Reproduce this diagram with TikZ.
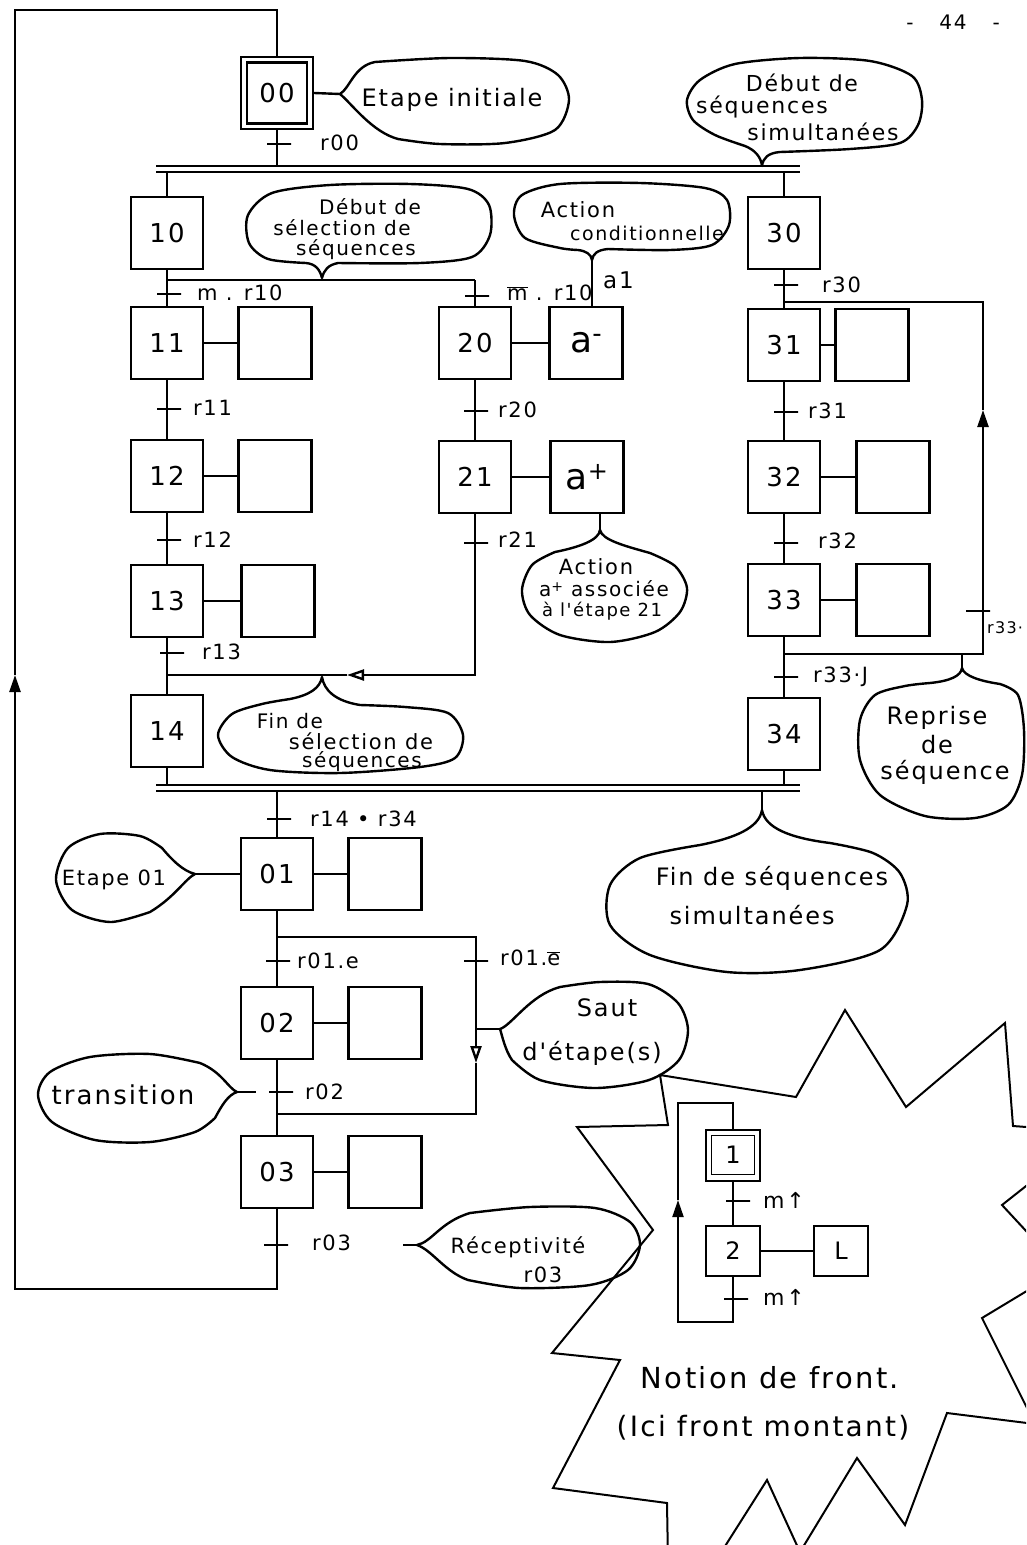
\documentclass[tikz,border=0pt]{standalone}
\usepackage{fontspec}
\setmainfont{DejaVu Sans}
\newfontfamily\hand[LetterSpace=8]{DejaVu Sans}
\usetikzlibrary{arrows.meta}
\newcommand{\ovl}[1]{\ensuremath{\overline{\mbox{#1}}}}
\begin{document}
\begin{tikzpicture}[x=1pt,y=-1pt,
  ln/.style={line width=2.4pt},
  thin/.style={line width=2pt},
  stepbox/.style={draw,line width=2.4pt,minimum width=72pt,minimum height=72pt,inner sep=0pt,font=\fontsize{26}{30}\selectfont\hand},
  actbox/.style={draw,line width=2.4pt,minimum width=73pt,minimum height=72pt,inner sep=0pt,font=\fontsize{36}{40}\selectfont},
  innerbox/.style={draw,line width=2.2pt,minimum width=60pt,minimum height=61pt,inner sep=0pt,font=\fontsize{26}{30}\selectfont\hand},
  smbox/.style={draw,line width=2pt,minimum width=54pt,minimum height=50pt,inner sep=0pt,font=\fontsize{24}{28}\selectfont},
  trs/.style={draw,line width=2.4pt,minimum width=24pt,minimum height=0pt,inner sep=0pt},
  lbl/.style={font=\fontsize{21}{24}\selectfont\hand,inner sep=0pt,anchor=west},
  btxt/.style={font=\fontsize{#1}{#1}\selectfont\hand,inner sep=0pt},
  btxt/.default=22,
  bub/.style={line width=2.4pt,line join=round},
  starline/.style={line width=2pt,line join=miter},
  tipF/.style={-{Triangle[length=17pt,width=11pt]}},
  tipO/.style={-{Triangle[open,length=17pt,width=11pt]}},
]
\path[use as bounding box] (0,0) rectangle (1026,1545);
\fill[white] (0,0) rectangle (1026,1545);
\clip (0,0) rectangle (1026,1545);

% page number
\node[btxt=20] (pg) at (953,22) {-\hspace{26pt}44\hspace{26pt}-};

% ---------- star (notion de front) ----------
\draw[starline] (660,1075) -- (796,1097) -- (845,1010) -- (906,1107) -- (1005,1023) -- (1013,1126) -- (1040,1128)
  -- (1040,1175) -- (1002,1205) -- (1040,1246) -- (1040,1283) -- (982,1318) -- (1035,1424) -- (947,1413)
  -- (905,1525) -- (857,1458) -- (800,1552) -- (767,1480) -- (715,1562) -- (668,1562) -- (667,1503)
  -- (553,1488) -- (620,1360) -- (552,1353) -- (653,1230) -- (577,1127) -- (668,1125) -- cycle;

% ---------- steps ----------
\node[stepbox] (s00) at (277,93) {};
\node[innerbox] (s00i) at (277,93) {00};
\node[stepbox] (s10) at (167,233) {10};
\node[stepbox] (s11) at (167,343) {11};
\node[stepbox] (s12) at (167,476) {12};
\node[stepbox] (s13) at (167,601) {13};
\node[stepbox] (s14) at (167,731) {14};
\node[stepbox] (s20) at (475,343) {20};
\node[stepbox] (s21) at (475,477) {21};
\node[stepbox] (s30) at (784,233) {30};
\node[stepbox] (s31) at (784,345) {31};
\node[stepbox] (s32) at (784,477) {32};
\node[stepbox] (s33) at (784,600) {33};
\node[stepbox] (s34) at (784,734) {34};
\node[stepbox] (s01) at (277,874) {01};
\node[stepbox] (s02) at (277,1023) {02};
\node[stepbox] (s03) at (277,1172) {03};

% ---------- actions ----------
\node[actbox] (a11) at (275,343) {};
\node[actbox] (a12) at (275,476) {};
\node[actbox] (a13) at (278,601) {};
\node[actbox] (a20) at (586,343) {a\raisebox{10pt}{\fontsize{26}{26}\selectfont -}};
\node[actbox] (a21) at (587,477) {a\raisebox{10pt}{\fontsize{24}{24}\selectfont +}};
\node[actbox] (a31) at (872,345) {};
\node[actbox] (a32) at (893,477) {};
\node[actbox] (a33) at (893,600) {};
\node[actbox] (a01) at (385,874) {};
\node[actbox] (a02) at (385,1023) {};
\node[actbox] (a03) at (385,1172) {};
\foreach \s/\a in {s11/a11,s12/a12,s13/a13,s20/a20,s21/a21,s31/a31,s32/a32,s33/a33,s01/a01,s02/a02,s03/a03}
  \draw[ln] (\s) -- (\a);

% ---------- junction coordinates ----------
\coordinate (b1aL) at (156,166); \coordinate (b1aR) at (800,166);
\coordinate (b1bL) at (156,172); \coordinate (b1bR) at (800,172);
\coordinate (b2aL) at (156,785); \coordinate (b2aR) at (800,785);
\coordinate (b2bL) at (156,791); \coordinate (b2bR) at (800,791);
\coordinate (selL) at (167,280); \coordinate (selR) at (475,280);
\coordinate (endL) at (167,675); \coordinate (endR) at (475,675); \coordinate (endA) at (347,675);
\coordinate (repT) at (784,302); \coordinate (repTR) at (983,302); \coordinate (repA) at (983,410);
\coordinate (repB) at (784,654); \coordinate (repBR) at (983,654);
\coordinate (jmp) at (277,937); \coordinate (jmpR) at (476,937); \coordinate (jmpA) at (476,1063);
\coordinate (jmpBR) at (476,1114); \coordinate (jmpB) at (277,1114);
\coordinate (lpTR) at (277,10); \coordinate (lpTL) at (15,10); \coordinate (lpA) at (15,675);
\coordinate (lpBL) at (15,1289); \coordinate (lpBR) at (277,1289);

% bars
\draw[ln] (b1aL) -- (b1aR);
\draw[ln] (b1bL) -- (b1bR);
\draw[ln] (b2aL) -- (b2aR);
\draw[ln] (b2bL) -- (b2bR);

% ---------- connectors ----------
\draw[ln] (s00.south) -- (s00.south |- b1aL);
\draw[ln] (s10.north |- b1bL) -- (s10.north);
\draw[ln] (s30.north |- b1bL) -- (s30.north);
\draw[ln] (s10.south) -- (selL);
\draw[ln] (selL) -- (selR);
\draw[ln] (selL) -- (s11.north);
\draw[ln] (selR) -- (s20.north);
\draw[ln] (s11.south) -- (s12.north);
\draw[ln] (s12.south) -- (s13.north);
\draw[ln] (s13.south) -- (endL) -- (s14.north);
\draw[ln] (s14.south) -- (s14.south |- b2aL);
\draw[ln] (s20.south) -- (s21.north);
\draw[ln,tipO] (s21.south) -- (endR) -- (endA);
\draw[ln] (endA) -- (endL);
\draw[ln] (s30.south) -- (repT) -- (s31.north);
\draw[ln] (s31.south) -- (s32.north);
\draw[ln] (s32.south) -- (s33.north);
\draw[ln] (s33.south) -- (repB) -- (s34.north);
\draw[ln,tipF] (repB) -- (repBR) -- (repA);
\draw[ln] (repA) -- (repTR) -- (repT);
\draw[ln] (s34.south) -- (s34.south |- b2aL);
\draw[ln] (s01.north |- b2bL) -- (s01.north);
\draw[ln] (s01.south) -- (jmp) -- (s02.north);
\draw[ln,tipO] (jmp) -- (jmpR) -- (jmpA);
\draw[ln] (jmpA) -- (jmpBR) -- (jmpB);
\draw[ln] (s02.south) -- (jmpB) -- (s03.north);
\draw[ln,tipF] (s03.south) -- (lpBR) -- (lpBL) -- (lpA);
\draw[ln] (lpA) -- (lpTL) -- (lpTR) -- (s00.north);

% ---------- transitions ----------
\node[trs] (t00) at (279,144) {};
\node[trs] (t10a) at (169,294) {};
\node[trs] (t10b) at (477,296) {};
\node[trs] (t11) at (169,409) {};
\node[trs] (t12) at (169,540) {};
\node[trs] (t13) at (172,653) {};
\node[trs] (t20) at (476,411) {};
\node[trs] (t21) at (476,543) {};
\node[trs] (t30) at (786,285) {};
\node[trs] (t31) at (786,412) {};
\node[trs] (t32) at (786,543) {};
\node[trs] (t33J) at (786,677) {};
\node[trs] (t33r) at (978,611) {};
\node[trs] (t1434) at (279,819) {};
\node[trs] (t01e) at (278,961) {};
\node[trs] (t01f) at (476,961) {};
\node[trs] (t02) at (281,1092) {};
\node[trs] (t03) at (276,1245) {};

\node[lbl] (l00) at (320,143) {r00};
\node[lbl] (l10a) at (197,293) {m . r10};
\node[lbl] (l10b) at (507,293) {\ovl{m} . r10};
\node[lbl,font=\fontsize{23}{24}\selectfont\hand] (la1) at (603,280) {a1};
\node[lbl] (l11) at (193,408) {r11};
\node[lbl] (l12) at (193,540) {r12};
\node[lbl] (l13) at (202,652) {r13};
\node[lbl] (l20) at (498,410) {r20};
\node[lbl] (l21) at (498,540) {r21};
\node[lbl] (l30) at (822,285) {r30};
\node[lbl] (l31) at (808,411) {r31};
\node[lbl] (l32) at (818,541) {r32};
\node[lbl] (l33J) at (813,677) {r33·J};
\node[lbl,font=\fontsize{16}{18}\selectfont\hand] (l33r) at (987,628) {r33·};
\node[lbl] (l1434) at (310,819) {r14 • r34};
\node[lbl] (l01e) at (297,961) {r01.e};
\node[lbl] (l01f) at (500,958) {r01.\ovl{e}};
\node[lbl] (l02) at (305,1092) {r02};
\node[lbl] (l03) at (312,1243) {r03};

% ---------- bubbles ----------
% Etape initiale
\coordinate (eiT) at (340,94);
\draw[ln] (s00.east) -- (eiT);
\draw[bub] (eiT) .. controls (350,88) and (354,66) .. (375,62)
  -- plot[smooth] coordinates {(375,62) (450,58) (525,61) (558,75) (569,100) (555,130) (505,143) (440,144) (398,139)}
  .. controls (372,132) and (352,104) .. (eiT) -- cycle;
\node[btxt=24] (tEI) at (452,100) {Etape initiale};

% Debut de sequences simultanees
\coordinate (dsT) at (762,166);
\draw[bub] (dsT) .. controls (763,158) and (768,153) .. (780,152)
  -- plot[smooth] coordinates {(780,152) (850,149) (900,143) (918,125) (922,100) (912,76) (870,61) (800,58) (735,64) (700,80) (687,100) (693,120) (715,135) (745,146)}
  .. controls (755,150) and (761,157) .. (dsT) -- cycle;
\node[btxt] (tDS1) at (802,83) {Début de};
\node[btxt] (tDS2) at (762,107) {séquences};
\node[btxt] (tDS3) at (823,132) {simultanées};

% Debut de selection de sequences
\coordinate (dselT) at (322,278);
\draw[bub] (dselT) .. controls (324,270) and (328,265) .. (338,263)
  -- plot[smooth] coordinates {(338,263) (420,263) (472,257) (490,235) (489,205) (468,189) (410,184) (330,185) (272,193) (248,215) (249,243) (268,259) (306,263)}
  .. controls (316,264) and (320,270) .. (dselT) -- cycle;
\node[btxt=20] (tDL1) at (370,207) {Début de};
\node[btxt=20] (tDL2) at (342,228) {sélection de};
\node[btxt=20] (tDL3) at (356,250) {séquences};

% Action conditionnelle
\coordinate (acT) at (592,260);
\draw[bub] (acT) .. controls (593,254) and (597,250) .. (608,249)
  -- plot[smooth] coordinates {(608,249) (670,250) (712,245) (729,225) (727,200) (705,188) (640,183) (560,184) (522,195) (514,215) (525,238) (560,248) (578,250)}
  .. controls (586,251) and (591,254) .. (acT) -- cycle;
\draw[ln] (acT) -- (acT |- a20.north);
\node[btxt=21] (tAC1) at (578,210) {Action};
\node[btxt=19] (tAC2) at (647,233) {conditionnelle};

% Action a+ associee
\coordinate (apT) at (600,530);
\draw[ln] (a21.south -| apT) -- (apT);
\draw[bub] (apT) .. controls (599,540) and (580,547) .. (555,552)
  -- plot[smooth] coordinates {(555,552) (532,565) (522,590) (530,615) (560,635) (610,642) (655,632) (680,612) (687,588) (675,566) (650,553)}
  .. controls (625,546) and (602,540) .. (apT) -- cycle;
\node[btxt=21] (tAP1) at (596,567) {Action};
\node[btxt=20] (tAP2) at (604,589) {a\raisebox{5pt}{\fontsize{14}{14}\selectfont +} associée};
\node[btxt=18] (tAP3) at (602,611) {à l'étape 21};

% Fin de selection de sequences
\coordinate (fsT) at (322,677);
\draw[bub] (fsT) .. controls (324,690) and (335,701) .. (360,705)
  -- plot[smooth] coordinates {(360,705) (405,707) (448,713) (463,735) (455,758) (420,767) (340,773) (270,770) (232,757) (218,735) (232,714) (262,704) (290,699)}
  .. controls (310,695) and (320,688) .. (fsT) -- cycle;
\node[btxt=20] (tFS1) at (290,721) {Fin de};
\node[btxt=21] (tFS2) at (361,741) {sélection de};
\node[btxt=20] (tFS3) at (362,762) {séquences};

% Reprise de sequence
\coordinate (rpT) at (962,668);
\draw[ln] (962,654) -- (rpT);
\draw[bub] (rpT) .. controls (964,676) and (980,681) .. (1000,684)
  -- plot[smooth] coordinates {(1000,684) (1018,695) (1024,730) (1022,775) (1008,805) (975,818) (925,816) (880,795) (860,760) (860,720) (875,695) (905,686) (930,683)}
  .. controls (950,681) and (961,676) .. (rpT) -- cycle;
\node[btxt=24] (tRP1) at (937,718) {Reprise};
\node[btxt=24] (tRP2) at (937,745) {de};
\node[btxt=24] (tRP3) at (945,772) {séquence};

% Fin de sequences simultanees
\coordinate (fmT) at (762,810);
\draw[ln] (b2bR -| fmT) -- (fmT);
\draw[bub] (fmT) .. controls (765,828) and (790,838) .. (830,843)
  -- plot[smooth] coordinates {(830,843) (873,853) (900,873) (907,905) (880,950) (800,970) (727,972) (650,955) (610,925) (610,885) (640,858) (700,845)}
  .. controls (735,838) and (759,828) .. (fmT) -- cycle;
\node[btxt=24] (tFM1) at (772,878) {Fin de séquences};
\node[btxt=24] (tFM2) at (752,915) {simultanées};

% Etape 01
\coordinate (e1T) at (195,874);
\draw[ln] (e1T) -- (s01.west);
\draw[bub] (e1T) .. controls (185,879) and (175,897) .. (150,912)
  -- plot[smooth] coordinates {(150,912) (110,922) (72,910) (56,880) (68,848) (100,834) (140,836) (162,848)}
  .. controls (172,860) and (183,871) .. (e1T) -- cycle;
\node[btxt=21] (tE1) at (114,880) {Etape 01};

% transition
\coordinate (trT) at (237,1092);
\draw[ln] (trT) -- (256,1092);
\draw[bub] (trT) .. controls (228,1088) and (222,1072) .. (200,1063)
  -- plot[smooth] coordinates {(200,1063) (150,1054) (90,1057) (50,1072) (38,1095) (52,1122) (95,1140) (150,1142) (195,1132) (215,1118)}
  .. controls (222,1105) and (228,1095) .. (trT) -- cycle;
\node[btxt=26] (tTR) at (123,1095) {transition};

% Saut d'etape(s)
\coordinate (saT) at (500,1029);
\draw[ln] (jmpR |- saT) -- (saT);
\draw[bub] (saT) .. controls (512,1025) and (530,995) .. (560,987)
  -- plot[smooth] coordinates {(560,987) (600,982) (648,984) (678,1003) (688,1030) (679,1060) (649,1080) (595,1088) (540,1080) (512,1060)}
  .. controls (505,1050) and (502,1035) .. (saT) -- cycle;
\node[btxt=24] (tSA1) at (607,1008) {Saut};
\node[btxt=24] (tSA2) at (592,1053) {d'étape(s)};

% Receptivite r03
\coordinate (reT) at (417,1245);
\draw[ln] (403,1245) -- (reT);
\draw[bub] (reT) .. controls (432,1242) and (440,1222) .. (470,1213)
  -- plot[smooth] coordinates {(470,1213) (530,1207) (595,1208) (630,1222) (640,1245) (628,1270) (590,1285) (520,1288) (468,1280)}
  .. controls (445,1272) and (432,1250) .. (reT) -- cycle;
\node[btxt=21] (tRE1) at (518,1247) {Réceptivité};
\node[btxt=21] (tRE2) at (543,1275) {r03};

% ---------- small grafcet (front montant) ----------
\node[smbox,minimum height=51pt] (m1) at (733,1155) {};
\node[draw,line width=1.8pt,minimum width=43pt,minimum height=39pt,inner sep=0pt,font=\fontsize{24}{28}\selectfont] (m1i) at (733,1155) {1};
\node[smbox] (m2) at (733,1251) {2};
\node[smbox] (mL) at (841,1251) {L};
\draw[thin] (m2) -- (mL);
\draw[thin] (m1.south) -- (m2.north);
\coordinate (mB) at (733,1322); \coordinate (mBL) at (678,1322); \coordinate (mA) at (678,1200);
\coordinate (mTL) at (678,1103); \coordinate (mT) at (733,1103);
\draw[thin,tipF] (m2.south) -- (mB) -- (mBL) -- (mA);
\draw[thin] (mA) -- (mTL) -- (mT) -- (m1.north);
\node[trs,line width=2pt] (mt1) at (738,1201) {};
\node[trs,line width=2pt] (mt2) at (736,1299) {};
\node[lbl,font=\fontsize{22}{24}\selectfont\hand] (lm1) at (763,1200) {m↑};
\node[lbl,font=\fontsize{22}{24}\selectfont\hand] (lm2) at (763,1297) {m↑};

\node[btxt=29] (tN1) at (770,1378) {Notion de front.};
\node[btxt=28] (tN2) at (763,1428) {(Ici front montant)};
\end{tikzpicture}
\end{document}
